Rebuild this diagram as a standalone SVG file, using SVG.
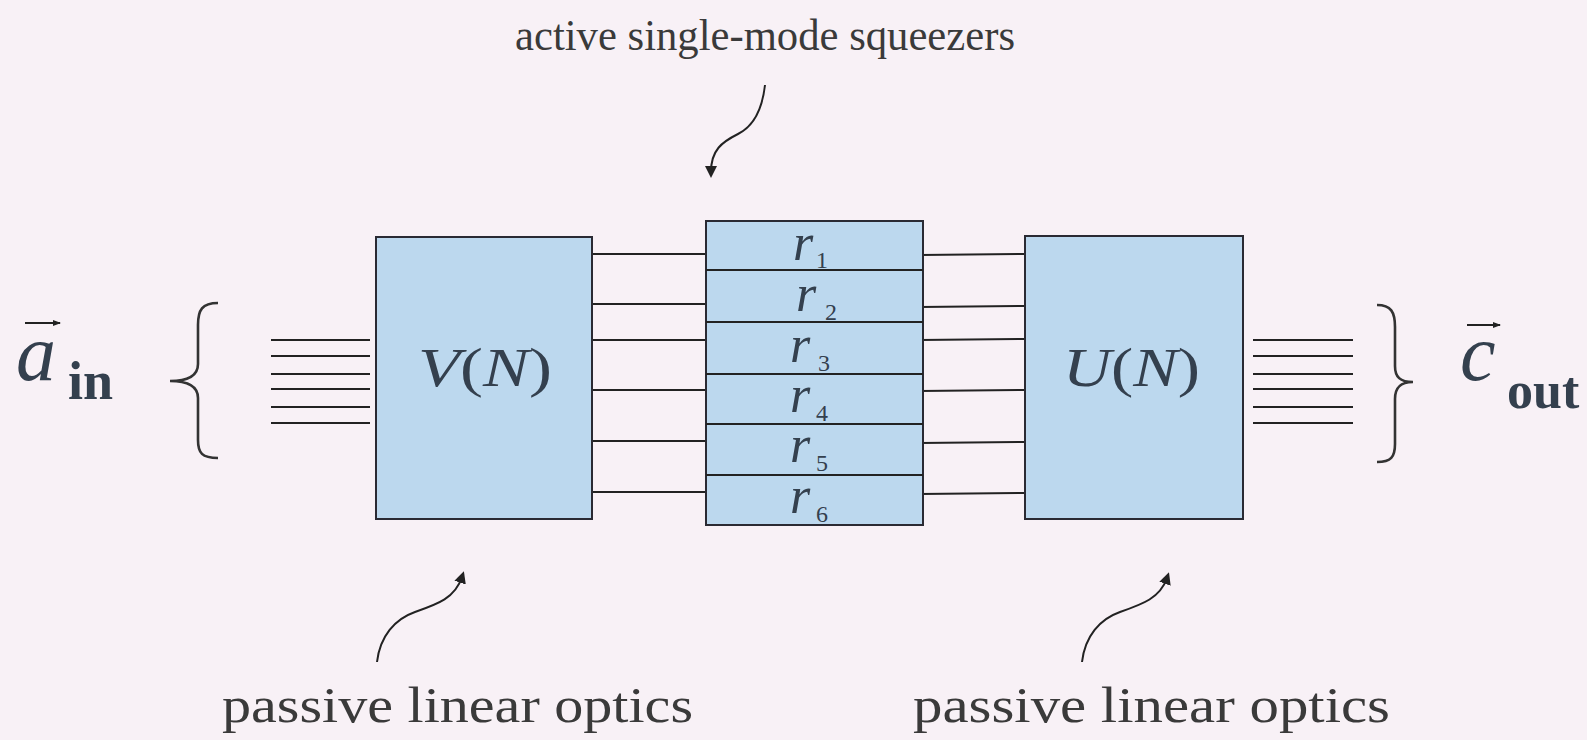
<svg xmlns="http://www.w3.org/2000/svg" width="1587" height="740" viewBox="0 0 1587 740">
<style>
.bg{fill:#f8f1f6}
.box{fill:#bcd8ee;stroke:#2a2a33;stroke-width:2}
.ln{stroke:#222;stroke-width:2;fill:none}
.cv{stroke:#222;stroke-width:2;fill:none}
.br{stroke:#333;stroke-width:2.6;fill:none}
.lbl{font-family:"Liberation Serif",serif;fill:#3a3a3a}
.math{font-family:"Liberation Serif",serif;fill:#34404e}
.it{font-style:italic}
.bd{font-weight:bold}
.sub{font-size:24px}
</style>
<defs>
<marker id="ah" markerWidth="12" markerHeight="12" refX="6" refY="6" orient="auto" markerUnits="userSpaceOnUse">
<path d="M0,0 L12,6 L0,12 z" fill="#222"/>
</marker>
<marker id="sv" markerWidth="8" markerHeight="8" refX="7" refY="4" orient="auto" markerUnits="userSpaceOnUse">
<path d="M0,1 L8,4 L0,7 z" fill="#222"/>
</marker>
</defs>
<rect class="bg" x="0" y="0" width="1587" height="740"/>

<g id="connectors">
<g id="in-lines">
<line class="ln" x1="271" y1="340" x2="370" y2="340"/>
<line class="ln" x1="271" y1="356" x2="370" y2="356"/>
<line class="ln" x1="271" y1="374" x2="370" y2="374"/>
<line class="ln" x1="271" y1="389" x2="370" y2="389"/>
<line class="ln" x1="271" y1="407" x2="370" y2="407"/>
<line class="ln" x1="271" y1="423" x2="370" y2="423"/>
</g>
<g id="v-to-s">
<line class="ln" x1="588" y1="254" x2="706" y2="254"/>
<line class="ln" x1="588" y1="304" x2="706" y2="304"/>
<line class="ln" x1="588" y1="340" x2="706" y2="340"/>
<line class="ln" x1="588" y1="390" x2="706" y2="390"/>
<line class="ln" x1="588" y1="441" x2="706" y2="441"/>
<line class="ln" x1="588" y1="492" x2="706" y2="492"/>
</g>
<g id="s-to-u">
<line class="ln" x1="920" y1="255" x2="1025" y2="254"/>
<line class="ln" x1="920" y1="307" x2="1025" y2="306"/>
<line class="ln" x1="920" y1="340" x2="1025" y2="339"/>
<line class="ln" x1="920" y1="391" x2="1025" y2="390"/>
<line class="ln" x1="920" y1="443" x2="1025" y2="442"/>
<line class="ln" x1="920" y1="494" x2="1025" y2="493"/>
</g>
<g id="out-lines">
<line class="ln" x1="1253" y1="340" x2="1353" y2="340"/>
<line class="ln" x1="1253" y1="356" x2="1353" y2="356"/>
<line class="ln" x1="1253" y1="374" x2="1353" y2="374"/>
<line class="ln" x1="1253" y1="389" x2="1353" y2="389"/>
<line class="ln" x1="1253" y1="407" x2="1353" y2="407"/>
<line class="ln" x1="1253" y1="423" x2="1353" y2="423"/>
</g>
<path class="cv" d="M765 85 C762 112 752 127 738 134 C722 142 711 150 711 172" marker-end="url(#ah)"/>
<path class="cv" d="M377 662 C380 636 395 619 415 612 C438 604 455 598 462 577" marker-end="url(#ah)"/>
<path class="cv" d="M1082 662 C1085 636 1100 619 1120 612 C1143 604 1160 598 1167 578" marker-end="url(#ah)"/>
</g>

<g id="node-V">
<rect class="box" x="376" y="237" width="216" height="282"/>
<text class="math" x="418" y="386" font-size="55" textLength="134" lengthAdjust="spacingAndGlyphs"><tspan class="it">V</tspan>(<tspan class="it">N</tspan>)</text>
</g>

<g id="node-S">
<rect class="box" x="706" y="221" width="217" height="304"/>
<line class="ln" x1="706" y1="270" x2="923" y2="270"/>
<line class="ln" x1="706" y1="322" x2="923" y2="322"/>
<line class="ln" x1="706" y1="374" x2="923" y2="374"/>
<line class="ln" x1="706" y1="424" x2="923" y2="424"/>
<line class="ln" x1="706" y1="475" x2="923" y2="475"/>
<text class="math" font-size="52"><tspan class="it" x="793" y="260">r</tspan><tspan class="sub" x="816" y="268">1</tspan></text>
<text class="math" font-size="52"><tspan class="it" x="796" y="311">r</tspan><tspan class="sub" x="825" y="320">2</tspan></text>
<text class="math" font-size="52"><tspan class="it" x="790" y="362">r</tspan><tspan class="sub" x="818" y="371">3</tspan></text>
<text class="math" font-size="52"><tspan class="it" x="790" y="412">r</tspan><tspan class="sub" x="816" y="421">4</tspan></text>
<text class="math" font-size="52"><tspan class="it" x="790" y="462">r</tspan><tspan class="sub" x="816" y="471">5</tspan></text>
<text class="math" font-size="52"><tspan class="it" x="790" y="513">r</tspan><tspan class="sub" x="816" y="522">6</tspan></text>
</g>

<g id="node-U">
<rect class="box" x="1025" y="236" width="218" height="283"/>
<text class="math" x="1063" y="386" font-size="55" textLength="137" lengthAdjust="spacingAndGlyphs"><tspan class="it">U</tspan>(<tspan class="it">N</tspan>)</text>
</g>

<g id="input">
<path class="br" d="M218 303 C202 303 198 310 198 325 L198 364 C198 375 190 381 170 381 C190 381 198 387 198 398 L198 440 C198 453 202 458 218 458"/>
<text class="math" x="16" y="380" font-size="80"><tspan class="it">a</tspan></text>
<line class="ln" x1="25" y1="323" x2="60" y2="323" stroke-width="1.8" marker-end="url(#sv)"/>
<text class="math bd" x="68" y="399" font-size="54" fill="#222">in</text>
</g>

<g id="output">
<path class="br" d="M1377 305 C1391 305 1395 312 1395 327 L1395 366 C1395 377 1400 382 1413 382 C1400 382 1395 388 1395 399 L1395 444 C1395 457 1391 462 1377 462"/>
<text class="math" x="1460" y="380" font-size="80"><tspan class="it">c</tspan></text>
<line class="ln" x1="1467" y1="325" x2="1500" y2="325" stroke-width="1.8" marker-end="url(#sv)"/>
<text class="math bd" x="1507" y="408" font-size="52">out</text>
</g>

<g id="labels">
<text class="lbl" x="515" y="50" font-size="45" textLength="500" lengthAdjust="spacingAndGlyphs">active single-mode squeezers</text>
<text class="lbl" x="222" y="722" font-size="50" textLength="471" lengthAdjust="spacingAndGlyphs">passive linear optics</text>
<text class="lbl" x="913" y="722" font-size="50" textLength="477" lengthAdjust="spacingAndGlyphs">passive linear optics</text>
</g>
</svg>
